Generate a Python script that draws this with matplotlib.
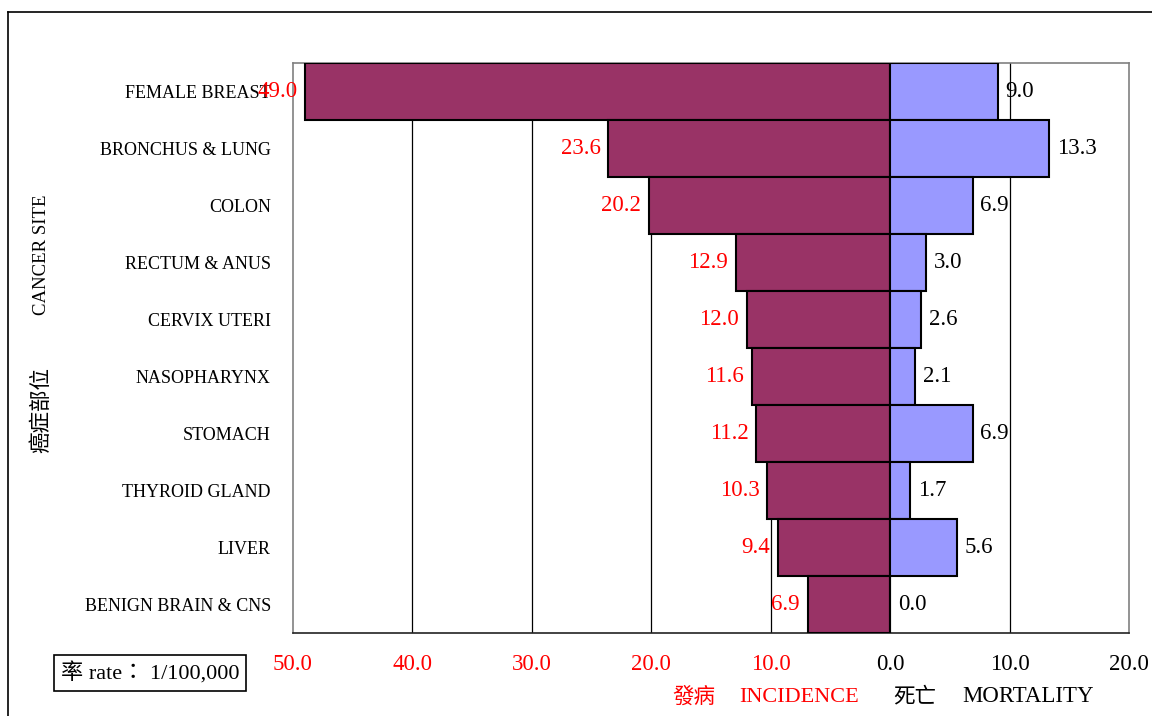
import matplotlib
matplotlib.use('Agg')
import matplotlib.pyplot as plt
from matplotlib.lines import Line2D
import numpy as np

sites = ['FEMALE BREAST', 'BRONCHUS & LUNG', 'COLON', 'RECTUM & ANUS', 'CERVIX UTERI',
         'NASOPHARYNX', 'STOMACH', 'THYROID GLAND', 'LIVER', 'BENIGN BRAIN & CNS']
incidence = [49.0, 23.6, 20.2, 12.9, 12.0, 11.6, 11.2, 10.3, 9.4, 6.9]
mortality = [9.0, 13.3, 6.9, 3.0, 2.6, 2.1, 6.9, 1.7, 5.6, 0.0]
xticks = [-50, -40, -30, -20, -10, 0, 10, 20]

serif = ['Liberation Serif', 'Noto Sans CJK TC', 'DejaVu Sans']
plt.rcParams['font.family'] = serif

fig = plt.figure(figsize=(11.52, 7.16), dpi=100)
ax = fig.add_axes([293/1152, 83/716, 836/1152, 570/716])

y = np.arange(len(sites))
inc = -np.array(incidence)
ax.barh(y, inc, height=1.0, color='#993366', edgecolor='black', linewidth=1.5, zorder=3)
ax.barh(y, mortality, height=1.0, color='#9999FF', edgecolor='black', linewidth=1.5, zorder=3)

for g in [-40, -30, -20, -10, 10]:
    ax.axvline(g, color='black', linewidth=0.9, zorder=1)

for i in range(len(sites)):
    ax.text(inc[i] - 0.65, y[i], '%.1f' % incidence[i], color='red', fontsize=16.5,
            ha='right', va='center', zorder=4)
    ax.text(mortality[i] + 0.65, y[i], '%.1f' % mortality[i], color='black', fontsize=16.5,
            ha='left', va='center', zorder=4)

ax.set_xlim(-50, 20)
ax.set_ylim(len(sites) - 0.5, -0.5)
ax.set_yticks(y)
ax.set_yticklabels(sites, fontsize=13)
ax.set_xticks(xticks)
ax.set_xticklabels(['%.1f' % abs(t) for t in xticks], fontsize=16.5)
for lab, t in zip(ax.get_xticklabels(), xticks):
    lab.set_color('red' if t < 0 else 'black')
ax.tick_params(axis='both', length=0)
ax.tick_params(axis='x', pad=15)
ax.tick_params(axis='y', pad=16)

for s in ['left', 'top', 'right']:
    ax.spines[s].set_color('#808080')
    ax.spines[s].set_linewidth(1.2)
ax.spines['bottom'].set_color('#222222')
ax.spines['bottom'].set_linewidth(1.2)

# y axis title, two parts
fig.text(42/1152, 1 - 255/716, 'CANCER SITE', rotation=90,
         ha='center', va='center', fontsize=13.5)
fig.text(42/1152, 1 - 410/716, '癌症部位', rotation=90,
         ha='center', va='center', fontsize=15.5)

# bottom captions
fig.text(694/1152, 1 - 698/716, '發病', color='red', fontsize=15.5, ha='center', va='center')
fig.text(799/1152, 1 - 697/716, 'INCIDENCE', color='red', fontsize=16, ha='center', va='center')
fig.text(915/1152, 1 - 698/716, '死亡', color='black', fontsize=15.5, ha='center', va='center')
fig.text(1028/1152, 1 - 697/716, 'MORTALITY', color='black', fontsize=16.5, ha='center', va='center')

fig.text(150/1152, 1 - 673/716, '率 rate\uff1a 1/100,000', fontsize=16, ha='center', va='center',
         bbox=dict(boxstyle='square,pad=0.3', facecolor='white', edgecolor='black', linewidth=1.2))

# outer frame
fig.add_artist(Line2D([8/1152, 8/1152], [0, 1 - 12/716], color='black', linewidth=1.2,
                      transform=fig.transFigure))
fig.add_artist(Line2D([8/1152, 1], [1 - 12/716, 1 - 12/716], color='black', linewidth=1.2,
                      transform=fig.transFigure))

fig.savefig('out.png', dpi=100)
